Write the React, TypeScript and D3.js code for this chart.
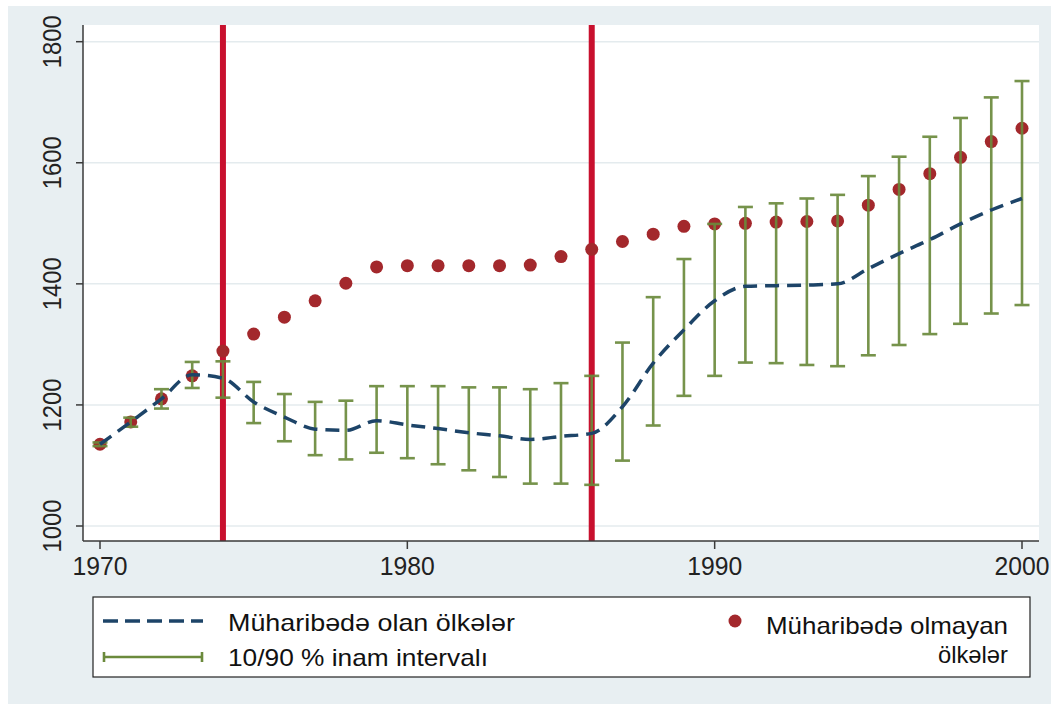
import React from "react";
import * as d3 from "d3";

const years = d3.range(1970, 2001);
const nonWar = [1135, 1172, 1210, 1248, 1289, 1317, 1345, 1372, 1401, 1428, 1430, 1430, 1430, 1430, 1431, 1445, 1457, 1470, 1482, 1495, 1499, 1500, 1502, 1503, 1504, 1530, 1556, 1582, 1609, 1635, 1657];
const war = [1135, 1172, 1210, 1250, 1244, 1205, 1180, 1160, 1158, 1174, 1167, 1161, 1154, 1149, 1143, 1148, 1153, 1197, 1269, 1324, 1372, 1396, 1397, 1398, 1400, 1425, 1450, 1473, 1499, 1522, 1541];
const ciLow = [1132, 1164, 1194, 1228, 1212, 1170, 1140, 1117, 1110, 1121, 1112, 1102, 1092, 1081, 1070, 1070, 1068, 1108, 1166, 1215, 1248, 1270, 1269, 1266, 1264, 1282, 1299, 1317, 1334, 1351, 1365];
const ciHigh = [1138, 1179, 1226, 1271, 1272, 1238, 1218, 1205, 1207, 1231, 1231, 1231, 1229, 1229, 1226, 1236, 1248, 1303, 1378, 1441, 1499, 1527, 1533, 1541, 1547, 1578, 1610, 1643, 1674, 1708, 1735];
const warYears = [1974, 1986];
const yTicks = [1000, 1200, 1400, 1600, 1800];
const xTicks = [1970, 1980, 1990, 2000];
const legendLabels = ["Müharibədə olan ölkələr", "10/90 % inam intervalı", "Müharibədə olmayan", "ölkələr"];

const W = 1056;
const H = 704;
const plot = { left: 83, right: 1039, top: 25, bottom: 541 };
const font = "'Liberation Sans', Arial, Helvetica, sans-serif";
const navy = "#1d4468";
const green = "#6b8a3c";
const dotRed = "#a3282c";
const vRed = "#c8102e";

export default function App() {
  const x = d3.scaleLinear().domain([1970, 2000]).range([100, 1022]);
  const y = d3.scaleLinear().domain([1000, 1800]).range([526, 41.7]);
  const lineGen = d3
    .line<number>()
    .x((_, i) => x(years[i]))
    .y((d) => y(d))
    .curve(d3.curveMonotoneX);
  const capW = 7.5;

  return (
    <svg
      width={W}
      height={H}
      style={{ position: "absolute", left: 0, top: 0, display: "block" }}
    >
      <rect x={0} y={0} width={W} height={H} fill="#ffffff" />
      <rect x={8} y={6} width={1043} height={H - 6} fill="#e8eff2" />
      <rect
        x={plot.left}
        y={plot.top}
        width={plot.right - plot.left}
        height={plot.bottom - plot.top}
        fill="#ffffff"
      />
      {yTicks.map((t) => (
        <line
          key={"g" + t}
          x1={plot.left}
          x2={plot.right}
          y1={y(t)}
          y2={y(t)}
          stroke="#e4ebee"
          strokeWidth={1.5}
        />
      ))}
      {warYears.map((wy) => (
        <line
          key={"v" + wy}
          x1={x(wy)}
          x2={x(wy)}
          y1={plot.top}
          y2={plot.bottom}
          stroke={vRed}
          strokeWidth={6}
        />
      ))}
      {nonWar.map((v, i) => (
        <circle key={"d" + i} cx={x(years[i])} cy={y(v)} r={6.5} fill={dotRed} />
      ))}
      {years.map((yr, i) => (
        <g key={"e" + yr} stroke={green} strokeWidth={2.6} opacity={0.92}>
          <line x1={x(yr)} x2={x(yr)} y1={y(ciLow[i])} y2={y(ciHigh[i])} />
          <line x1={x(yr) - capW} x2={x(yr) + capW} y1={y(ciLow[i])} y2={y(ciLow[i])} />
          <line x1={x(yr) - capW} x2={x(yr) + capW} y1={y(ciHigh[i])} y2={y(ciHigh[i])} />
        </g>
      ))}
      <path
        d={lineGen(war) || ""}
        fill="none"
        stroke={navy}
        strokeWidth={3.5}
        strokeDasharray="14 8"
      />
      {/* axes */}
      <line x1={plot.left} x2={plot.left} y1={plot.top} y2={plot.bottom} stroke="#3a3a3a" strokeWidth={1.5} />
      <line x1={plot.left} x2={plot.right} y1={plot.bottom} y2={plot.bottom} stroke="#3a3a3a" strokeWidth={1.5} />
      {yTicks.map((t) => (
        <g key={"yt" + t}>
          <line x1={plot.left - 7} x2={plot.left} y1={y(t)} y2={y(t)} stroke="#3a3a3a" strokeWidth={1.5} />
          <text
            transform={`translate(61,${y(t)}) rotate(-90)`}
            textAnchor="middle"
            fontFamily={font}
            fontSize={25}
            textLength={53}
            lengthAdjust="spacingAndGlyphs"
            fill="#222"
          >
            {t}
          </text>
        </g>
      ))}
      {xTicks.map((t) => (
        <g key={"xt" + t}>
          <line x1={x(t)} x2={x(t)} y1={plot.bottom} y2={plot.bottom + 8} stroke="#3a3a3a" strokeWidth={1.5} />
          <text
            x={x(t)}
            y={575}
            textAnchor="middle"
            fontFamily={font}
            fontSize={25}
            textLength={55}
            lengthAdjust="spacingAndGlyphs"
            fill="#222"
          >
            {t}
          </text>
        </g>
      ))}
      {/* legend */}
      <rect x={93} y={597} width={937} height={80} fill="#ffffff" stroke="#222" strokeWidth={1.2} />
      <line x1={103} x2={203} y1={621} y2={621} stroke={navy} strokeWidth={3.5} strokeDasharray="15 7" />
      <text x={228} y={631} fontFamily={font} fontSize={24} textLength={287} lengthAdjust="spacingAndGlyphs" fill="#111">
        {legendLabels[0]}
      </text>
      <g stroke={green} strokeWidth={2.6}>
        <line x1={104} x2={202} y1={657} y2={657} />
        <line x1={104} x2={104} y1={652} y2={662} />
        <line x1={202} x2={202} y1={652} y2={662} />
      </g>
      <text x={228} y={666} fontFamily={font} fontSize={24} textLength={260} lengthAdjust="spacingAndGlyphs" fill="#111">
        {legendLabels[1]}
      </text>
      <circle cx={735} cy={621} r={6.5} fill={dotRed} />
      <text x={766} y={634} fontFamily={font} fontSize={24} textLength={242} lengthAdjust="spacingAndGlyphs" fill="#111">
        {legendLabels[2]}
      </text>
      <text x={938} y={663} fontFamily={font} fontSize={24} textLength={70} lengthAdjust="spacingAndGlyphs" fill="#111">
        {legendLabels[3]}
      </text>
    </svg>
  );
}
